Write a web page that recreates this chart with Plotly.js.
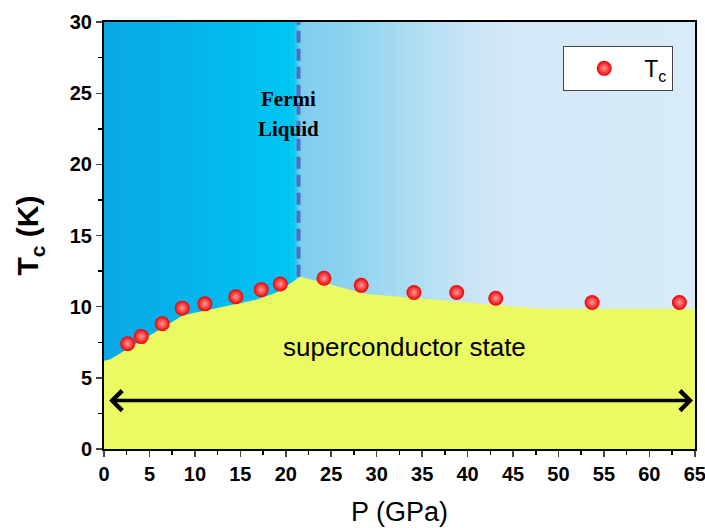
<!DOCTYPE html>
<html>
<head>
<meta charset="utf-8">
<script src="https://cdn.plot.ly/plotly-3.0.1.min.js"></script>
<style>html,body{margin:0;padding:0;background:#fff;}#chart{width:705px;height:528px;}</style>
</head>
<body>
<div id="chart"></div>
<script>
// Measured Tc points
const pressure = [2.6, 4.1, 6.4, 8.6, 11.1, 14.5, 17.3, 19.4, 24.2, 28.3, 34.1, 38.8, 43.1, 53.7, 63.3];
const tc = [7.4, 7.9, 8.8, 9.9, 10.2, 10.7, 11.2, 11.6, 12.0, 11.5, 11.0, 11.0, 10.6, 10.3, 10.3];

// Superconducting region boundary
const scBoundaryP = [0, 0.7, 8.7, 11.7, 16.8, 19.0, 21.6, 28.9, 31.5, 48.3, 65];
const scBoundaryT = [6.2, 6.3, 9.4, 9.8, 10.5, 11.0, 12.1, 10.9, 10.75, 9.85, 9.85];

// Fermi liquid boundary (dashed)
const flP = [21.4, 21.4];
const flT = [12.1, 30];

// Axis ticks
const xTicks = [0, 5, 10, 15, 20, 25, 30, 35, 40, 45, 50, 55, 60, 65];
const yTicks = [0, 5, 10, 15, 20, 25, 30];

// Background colour stops (pressure, colour)
const bgStopP = [0, 10, 20.8, 21.6, 28, 33, 40, 45, 65];
const bgStopC = ['#0aa8e6', '#05b4ec', '#00c6f2', '#7ecdee', '#92d4f0', '#a9dcf2', '#c8e4f5', '#d5e8f8', '#d8ebf8'];

const xMin = 0, xMax = 65;
const cols = [];
for (let p = xMin; p <= xMax + 1e-9; p += 0.25) cols.push(p);
const cs = bgStopP.map((p, i) => [(p - xMin) / (xMax - xMin), bgStopC[i]]);

const bg = {
  type: 'heatmap', x: cols, y: [0, 30], z: [cols, cols],
  zmin: xMin, zmax: xMax, colorscale: cs, showscale: false,
  hoverinfo: 'skip', showlegend: false, zsmooth: 'best'
};

const sc = {
  type: 'scatter', mode: 'lines', x: scBoundaryP, y: scBoundaryT,
  fill: 'tozeroy', fillcolor: '#ebf962', line: {width: 0, color: '#ebf962'},
  showlegend: false, hoverinfo: 'skip'
};

const fl = {
  type: 'scatter', mode: 'lines', x: flP, y: flT,
  line: {color: '#4f6fc4', width: 4, dash: '12px,6px'},
  showlegend: false, hoverinfo: 'skip'
};

const pts = {
  type: 'scatter', mode: 'markers', x: pressure, y: tc, name: 'T<sub>c</sub>',
  marker: {size: 15, color: '#ee0000', gradient: {type: 'radial', color: '#ff9a9a'}, line: {width: 0}}
};

const axisFont = {family: 'Liberation Sans, Arial, sans-serif', size: 20, color: '#000', weight: 'bold'};

const layout = {
  width: 705, height: 528,
  margin: {l: 104, r: 10, t: 22, b: 79},
  paper_bgcolor: '#fff', plot_bgcolor: '#fff',
  showlegend: true,
  legend: {
    x: 0.777, y: 0.944, xanchor: 'left', yanchor: 'top',
    bgcolor: '#fff', bordercolor: '#444', borderwidth: 1,
    font: {family: 'Liberation Sans, Arial, sans-serif', size: 23, color: '#000'},
    itemwidth: 70
  },
  xaxis: {
    range: [0, 65.02], tickmode: 'array', tickvals: xTicks, ticktext: xTicks.map(String),
    ticks: 'outside', ticklen: 6, tickwidth: 1.5, ticklabeloverflow: 'allow',
    minor: {ticks: 'outside', dtick: 2.5, ticklen: 4, tickwidth: 1.5, tickcolor: '#000'},
    showline: true, linecolor: '#000', linewidth: 2, mirror: true, showgrid: false, zeroline: false,
    tickfont: axisFont,
    title: {text: 'P (GPa)', font: {family: 'Liberation Sans, Arial, sans-serif', size: 27, color: '#000'}, standoff: 18}
  },
  yaxis: {
    range: [0, 30.01], tickmode: 'array', tickvals: yTicks, ticktext: yTicks.map(String),
    ticks: 'outside', ticklen: 6, tickwidth: 1.5,
    minor: {ticks: 'outside', dtick: 2.5, ticklen: 4, tickwidth: 1.5, tickcolor: '#000'},
    showline: true, linecolor: '#000', linewidth: 2, mirror: true, showgrid: false, zeroline: false,
    tickfont: axisFont,
    title: {text: 'T<sub>c</sub> (K)', font: {family: 'Liberation Sans, Arial, sans-serif', size: 30, color: '#000', weight: 'bold'}, standoff: 22}
  },
  annotations: [
    {x: 20.3, y: 24.6, xref: 'x', yref: 'y', text: 'Fermi', showarrow: false,
     font: {family: 'Liberation Serif, Times New Roman, serif', size: 21, color: '#000', weight: 'bold'}},
    {x: 20.3, y: 22.5, xref: 'x', yref: 'y', text: 'Liquid', showarrow: false,
     font: {family: 'Liberation Serif, Times New Roman, serif', size: 21, color: '#000', weight: 'bold'}},
    {x: 33.1, y: 7.2, xref: 'x', yref: 'y', text: 'superconductor state', showarrow: false,
     font: {family: 'Liberation Sans, Arial, sans-serif', size: 26, color: '#000'}},
    {x: 64.8, y: 3.4, ax: 0.4, ay: 3.4, xref: 'x', yref: 'y', axref: 'x', ayref: 'y',
     text: '', showarrow: true, arrowhead: 4, startarrowhead: 4, arrowside: 'end+start',
     arrowwidth: 3.5, arrowsize: 1.1, startarrowsize: 1.1, arrowcolor: '#000'}
  ]
};

Plotly.newPlot('chart', [bg, sc, fl, pts], layout, {displayModeBar: false, staticPlot: true});
</script>
</body>
</html>
